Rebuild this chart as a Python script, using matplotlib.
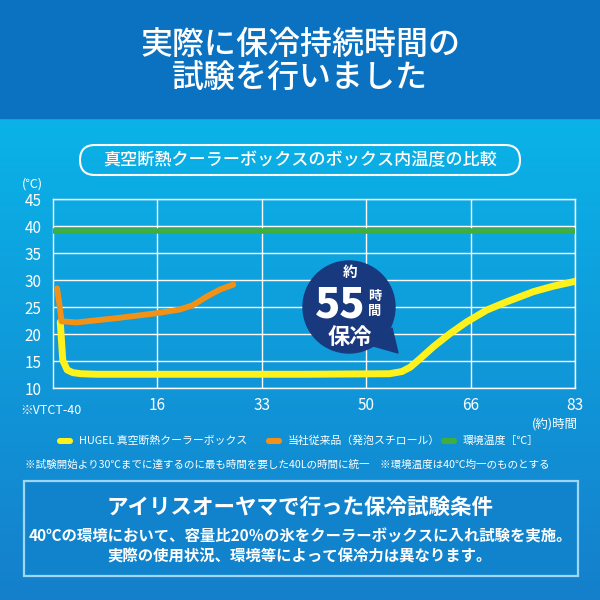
import numpy as np
import matplotlib
matplotlib.use("Agg")
import matplotlib.pyplot as plt
from matplotlib.patches import Rectangle, FancyBboxPatch, Circle, Polygon

plt.rcParams['font.family'] = ['Noto Sans CJK JP', 'DejaVu Sans']

# data
hugel_x = [1.2, 1.6, 2.3, 3.2, 4.5, 7, 20, 40, 53.5, 55.5, 56.8, 58.4, 60.5, 63.1, 65.8, 69.0, 72.1, 76.4, 79.5, 83]
hugel_y = [22.3, 15.2, 13.4, 12.9, 12.7, 12.6, 12.6, 12.6, 12.7, 13.1, 13.9, 15.5, 17.7, 20.1, 22.3, 24.5, 26.0, 27.9, 28.9, 29.8]
styro_x = [0.7, 1.05, 1.4, 3.8, 10.2, 16.5, 20.2, 22.3, 24.5, 26.6, 28.7]
styro_y = [28.5, 25.7, 22.4, 22.2, 23.0, 23.9, 24.6, 25.4, 27.0, 28.3, 29.2]
ambient_x = [0, 83]
ambient_y = [39.2, 39.2]
x_labels = ['16', '33', '50', '66', '83']
y_ticks = [10, 15, 20, 25, 30, 35, 40, 45]

title_lines = ['実際に保冷持続時間の', '試験を行いました']
subtitle = '真空断熱クーラーボックスのボックス内温度の比較'
legend_labels = ['HUGEL 真空断熱クーラーボックス', '当社従来品（発泡スチロール）', '環境温度［℃］']
note = '※試験開始より30℃までに達するのに最も時間を要した40Lの時間に統一　※環境温度は40℃均一のものとする'
cond_title = 'アイリスオーヤマで行った保冷試験条件'
cond_lines = ['40℃の環境において、容量比20％の氷をクーラーボックスに入れ試験を実施。',
              '実際の使用状況、環境等によって保冷力は異なります。']

YELLOW = '#fff21c'
ORANGE = '#f39117'
GREEN = '#3fae3c'
NAVY = '#19397f'

fig = plt.figure(figsize=(6, 6), dpi=100)

# background in pixel coords
bg = fig.add_axes([0, 0, 1, 1], zorder=0)
bg.axis('off')
top_c = np.array([0x0a, 0xb3, 0xe8]) / 255
bot_c = np.array([0x15, 0x7f, 0xcb]) / 255
t = np.linspace(0, 1, 256)[:, None]
grad = (top_c[None, :] * (1 - t) + bot_c[None, :] * t)[:, None, :]
bg.imshow(grad, extent=[0, 600, 600, 118], aspect='auto', zorder=0)
bg.add_patch(Rectangle((0, 0), 600, 118, color='#0b72c1', zorder=1))
bg.set_xlim(0, 600)
bg.set_ylim(600, 0)

# chart
x0, x1, y0, y1 = 52.7, 575, 388.3, 199.3
ax = fig.add_axes([x0 / 600, 1 - y0 / 600, (x1 - x0) / 600, (y0 - y1) / 600], zorder=1)
ax.patch.set_alpha(0)
ax.set_xlim(0, 83)
ax.set_ylim(10, 45)
ax.set_xticks([83 / 5 * (i + 1) for i in range(5)])
ax.set_xticklabels(x_labels)
ax.set_yticks(y_ticks)
ax.grid(True, color='white', lw=1.0)
for s in ax.spines.values():
    s.set_color('white')
    s.set_linewidth(1.0)
ax.tick_params(length=0, colors='white', labelsize=11)
ax.tick_params(axis='y', pad=8)
ax.tick_params(axis='x', pad=6)
ax.plot(ambient_x, ambient_y, color=GREEN, lw=4.0, zorder=3)
ax.plot(hugel_x, hugel_y, color=YELLOW, lw=5.0, solid_capstyle='round', solid_joinstyle='round', zorder=4)
ax.plot(styro_x, styro_y, color=ORANGE, lw=4.2, solid_capstyle='round', solid_joinstyle='round', zorder=5)

# overlay in pixel coords
ov = fig.add_axes([0, 0, 1, 1], zorder=2)
ov.set_xlim(0, 600)
ov.set_ylim(600, 0)
ov.axis('off')
ov.patch.set_alpha(0)

for i, line in enumerate(title_lines):
    ov.text(300, 45 + i * 34, line, color='white', fontsize=23, fontweight='medium',
            ha='center', va='center')

ov.add_patch(FancyBboxPatch((80, 145), 440, 30, boxstyle='round,pad=0,rounding_size=15',
                            fc='none', ec='white', lw=1.5))
ov.text(300, 160, subtitle, color='white', fontsize=12.3, fontweight='medium', ha='center', va='center')

ov.text(32, 184, '(℃)', color='white', fontsize=9, ha='center', va='center')
ov.text(20, 410, '※VTCT-40', color='white', fontsize=9, ha='left', va='center')
ov.text(578, 424, '(約)時間', color='white', fontsize=9, ha='right', va='center')

# callout bubble
ov.add_patch(Circle((349, 307), 46, color=NAVY, zorder=5))
ov.add_patch(Polygon([(370, 345), (392, 328), (398, 353)], closed=True, color=NAVY, zorder=5))
ov.text(350, 272, '約', color='white', fontsize=10.5, fontweight='bold', ha='center', va='center', zorder=6)
ov.text(340, 317, '55', color='white', fontsize=30, fontweight='black', ha='center', va='baseline', zorder=6)
ov.text(375, 296, '時', color='white', fontsize=9.5, fontweight='bold', ha='center', va='center', zorder=6)
ov.text(375, 311, '間', color='white', fontsize=9.5, fontweight='bold', ha='center', va='center', zorder=6)
ov.text(350, 338, '保冷', color='white', fontsize=16, fontweight='bold', ha='center', va='center', zorder=6)

# legend
leg_x = [57, 266, 441]
for lx, lab, col in zip(leg_x, legend_labels, [YELLOW, ORANGE, GREEN]):
    ov.add_patch(FancyBboxPatch((lx, 438), 16, 6, boxstyle='round,pad=0,rounding_size=3',
                                fc=col, ec='none'))
    ov.text(lx + 22, 441, lab, color='white', fontsize=7.8, ha='left', va='center')

ov.text(25, 465, note, color='white', fontsize=7.6, ha='left', va='center')

# conditions box
ov.add_patch(Rectangle((24, 481), 554, 95, fc='#1183cd', ec='#9fd6f3', lw=1.6))
ov.text(300, 507, cond_title, color='white', fontsize=15.5, fontweight='bold', ha='center', va='center')
ov.text(300, 537, cond_lines[0], color='white', fontsize=11.1, fontweight='bold', ha='center', va='center')
ov.text(300, 557, cond_lines[1], color='white', fontsize=11.1, fontweight='bold', ha='center', va='center')

fig.savefig('out.png', dpi=100)
